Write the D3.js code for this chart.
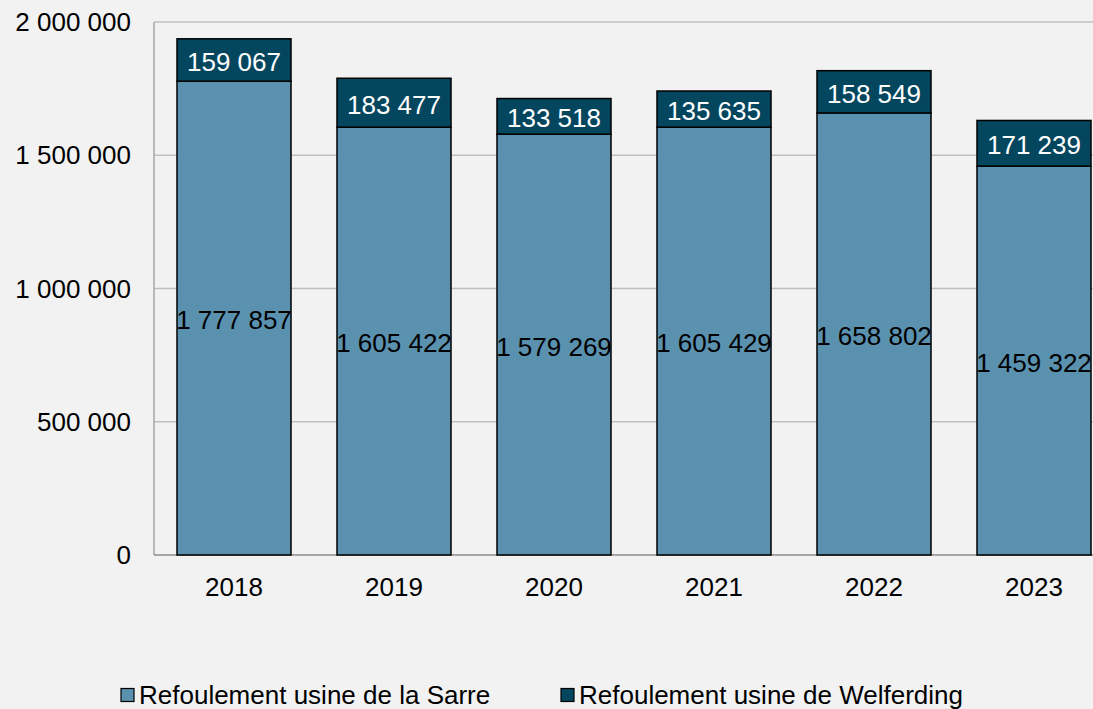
<!DOCTYPE html>
<html>
<head>
<meta charset="utf-8">
<script src="https://cdn.jsdelivr.net/npm/d3@7"></script>
<style>
  body { margin: 0; background: #f2f2f2; }
  svg text { font-family: "Liberation Sans", Arial, sans-serif; }
</style>
</head>
<body>
<div id="my_dataviz"></div>
<script>
var width = 1093
var height = 709

var years = ["2018", "2019", "2020", "2021", "2022", "2023"]
var sarre = [1777857, 1605422, 1579269, 1605429, 1658802, 1459322]
var welferding = [159067, 183477, 133518, 135635, 158549, 171239]
var yTicks = [0, 500000, 1000000, 1500000, 2000000]
var seriesNames = ["Refoulement usine de la Sarre", "Refoulement usine de Welferding"]
var colors = ["#5a91af", "#05465f"]

var fmt = function(v) { return d3.format(",")(v).replace(/,/g, " ") }

var svg = d3.select("#my_dataviz")
  .append("svg")
    .attr("width", width)
    .attr("height", height)

svg.append("rect").attr("width", width).attr("height", height).attr("fill", "#f2f2f2")

// plot area (runs past the right edge like the reference)
var plotLeft = 154, plotTop = 22, plotBottom = 555, plotRight = 154 + 160 * years.length

var x = d3.scaleBand()
  .domain(years)
  .range([plotLeft, plotRight])
  .paddingInner(46 / 160)
  .paddingOuter(23 / 160)

var y = d3.scaleLinear()
  .domain([0, 2000000])
  .range([plotBottom, plotTop])

// gridlines
svg.append("g")
  .selectAll("line")
  .data(yTicks.slice(1))
  .enter()
  .append("line")
    .attr("x1", plotLeft).attr("x2", plotRight)
    .attr("y1", function(d){ return y(d) }).attr("y2", function(d){ return y(d) })
    .attr("stroke", "#bfbfbf").attr("stroke-width", 1.5)

// axis lines
svg.append("line").attr("x1", plotLeft).attr("x2", plotLeft).attr("y1", plotTop).attr("y2", plotBottom)
  .attr("stroke", "#a6a6a6").attr("stroke-width", 1.5)
svg.append("line").attr("x1", plotLeft).attr("x2", plotRight).attr("y1", plotBottom).attr("y2", plotBottom)
  .attr("stroke", "#8c8c8c").attr("stroke-width", 1.5)

// y tick labels
svg.append("g")
  .selectAll("text")
  .data(yTicks)
  .enter()
  .append("text")
    .attr("x", 131)
    .attr("y", function(d){ return y(d) })
    .attr("dy", "0.35em")
    .attr("text-anchor", "end")
    .attr("font-size", 26)
    .attr("fill", "#000")
    .text(fmt)

// x labels
svg.append("g")
  .selectAll("text")
  .data(years)
  .enter()
  .append("text")
    .attr("x", function(d){ return x(d) + x.bandwidth() / 2 })
    .attr("y", 587)
    .attr("dy", "0.35em")
    .attr("text-anchor", "middle")
    .attr("font-size", 26)
    .attr("fill", "#000")
    .text(function(d){ return d })

var rows = years.map(function(yr, i) {
  return { year: yr, sarre: sarre[i], welferding: welferding[i] }
})

var stack = d3.stack().keys(["sarre", "welferding"])(rows)

var layer = svg.append("g")
  .selectAll("g")
  .data(stack)
  .enter()
  .append("g")
    .attr("fill", function(d, i){ return colors[i] })

layer.selectAll("rect")
  .data(function(d){ return d })
  .enter()
  .append("rect")
    .attr("x", function(d){ return x(d.data.year) })
    .attr("width", x.bandwidth())
    .attr("y", function(d){ return y(d[1]) })
    .attr("height", function(d){ return y(d[0]) - y(d[1]) })
    .attr("stroke", "#000")
    .attr("stroke-width", 1.5)

layer.each(function(s, i) {
  d3.select(this).selectAll("text")
    .data(s)
    .enter()
    .append("text")
      .attr("x", function(d){ return x(d.data.year) + x.bandwidth() / 2 })
      .attr("y", function(d){ return (y(d[0]) + y(d[1])) / 2 + 2 })
      .attr("dy", "0.35em")
      .attr("text-anchor", "middle")
      .attr("font-size", 26)
      .attr("fill", i == 0 ? "#000" : "#fff")
      .text(function(d){ return fmt(d[1] - d[0]) })
})

// legend
var legendX = [121, 561]
var legend = svg.append("g")
  .selectAll("g")
  .data(seriesNames)
  .enter()
  .append("g")
    .attr("transform", function(d, i){ return "translate(" + legendX[i] + ",695)" })

legend.append("rect")
  .attr("x", 0).attr("y", -6.5)
  .attr("width", 13).attr("height", 13)
  .attr("fill", function(d, i){ return colors[i] })
  .attr("stroke", "#000").attr("stroke-width", 1.2)

legend.append("text")
  .attr("x", 18)
  .attr("y", 0)
  .attr("dy", "0.35em")
  .attr("font-size", 26)
  .attr("fill", "#000")
  .text(function(d){ return d })
</script>
</body>
</html>
